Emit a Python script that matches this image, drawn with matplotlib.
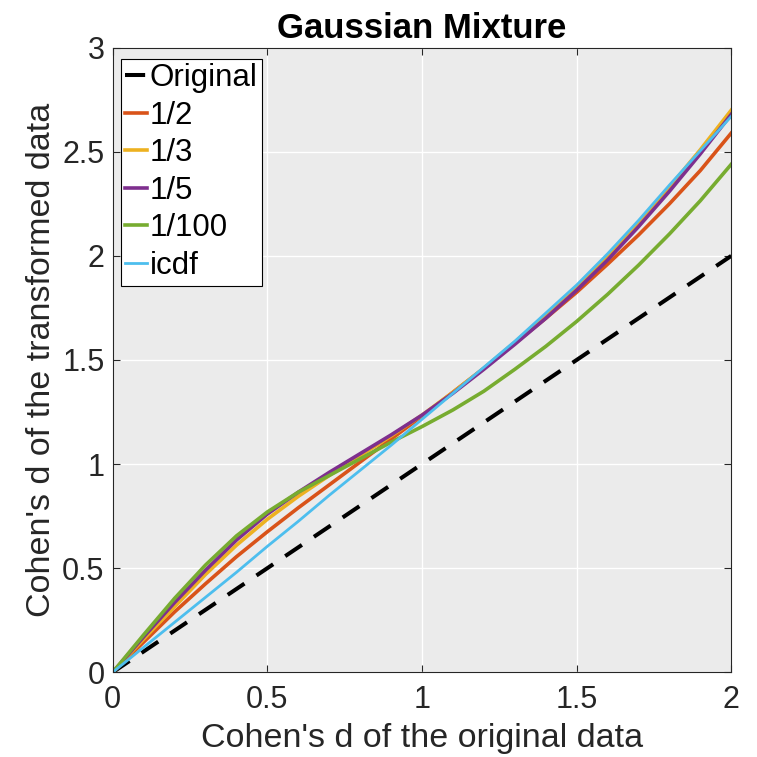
import matplotlib.pyplot as plt
import numpy as np

plt.rcParams['font.family'] = ['Liberation Sans', 'DejaVu Sans']

# effect size of the original data
d_orig = [0.0, 0.1, 0.2, 0.3, 0.4, 0.5, 0.6, 0.7, 0.8, 0.9, 1.0,
          1.1, 1.2, 1.3, 1.4, 1.5, 1.6, 1.7, 1.8, 1.9, 2.0]

# effect size after each transform
d_half = [0.0, 0.145, 0.29, 0.425, 0.555, 0.675, 0.79, 0.90, 1.01, 1.12, 1.23,
          1.345, 1.46, 1.58, 1.70, 1.825, 1.96, 2.10, 2.25, 2.41, 2.59]
d_third = [0.0, 0.16, 0.315, 0.47, 0.61, 0.735, 0.845, 0.945, 1.04, 1.135, 1.235,
           1.345, 1.46, 1.585, 1.715, 1.85, 1.995, 2.155, 2.33, 2.51, 2.70]
d_fifth = [0.0, 0.17, 0.335, 0.49, 0.635, 0.76, 0.865, 0.96, 1.05, 1.14, 1.235,
           1.34, 1.455, 1.575, 1.70, 1.835, 1.98, 2.14, 2.31, 2.49, 2.68]
d_hundredth = [0.0, 0.18, 0.355, 0.515, 0.655, 0.77, 0.865, 0.945, 1.025, 1.105, 1.18,
               1.26, 1.35, 1.455, 1.565, 1.685, 1.815, 1.955, 2.105, 2.265, 2.44]
d_icdf = [0.0, 0.12, 0.24, 0.36, 0.48, 0.605, 0.725, 0.85, 0.97, 1.09, 1.215,
          1.34, 1.465, 1.59, 1.725, 1.86, 2.01, 2.17, 2.34, 2.505, 2.67]

names = ['1/2', '1/3', '1/5', '1/100', 'icdf']
series = [d_half, d_third, d_fifth, d_hundredth, d_icdf]
colors = ['#D95319', '#EDB120', '#7E2F8E', '#77AC30', '#4DBEEE']
widths = [2.6, 2.6, 2.6, 2.6, 2.0]

fig = plt.figure(figsize=(7.57, 7.57), dpi=100)
ax = fig.add_axes([0.149, 0.112, 0.817, 0.825])
ax.set_facecolor('#ebebeb')

ax.plot(d_orig, d_orig, color='black', lw=2.9, dashes=(5.0, 3.6), label='Original')
for y, name, c, w in zip(series, names, colors, widths):
    ax.plot(d_orig, y, color=c, lw=w, label=name)

ax.set_xlim(0, 2)
ax.set_ylim(0, 3)
ax.set_xticks([0, 0.5, 1, 1.5, 2])
ax.set_xticklabels(['0', '0.5', '1', '1.5', '2'])
ax.set_yticks(np.arange(0, 3.01, 0.5))
ax.set_yticklabels(['0', '0.5', '1', '1.5', '2', '2.5', '3'])
ax.grid(True, color='white', lw=1.0)
ax.set_axisbelow(True)
ax.tick_params(direction='in', length=5, width=0.8, colors='#262626',
               labelsize=22, top=True, right=True, pad=6)
ax.tick_params(axis='x', pad=9)
for s in ax.spines.values():
    s.set_color('#262626')
    s.set_linewidth(0.8)

ax.set_xlabel("Cohen's d of the original data", fontsize=24.5, color='#262626', labelpad=6)
ax.set_ylabel("Cohen's d of the transformed data", fontsize=24.5, color='#262626', labelpad=4)
ax.set_title('Gaussian Mixture', fontsize=25, fontweight='bold', pad=7)

leg = ax.legend(loc='upper left', bbox_to_anchor=(0.0, 0.995), fontsize=22.5,
                frameon=True, fancybox=False, edgecolor='black', framealpha=1.0,
                handlelength=0.7, handletextpad=0.08, borderpad=0.15,
                labelspacing=0.24, borderaxespad=0.25)
leg.get_frame().set_linewidth(0.8)

fig.savefig('out.png', dpi=100)
